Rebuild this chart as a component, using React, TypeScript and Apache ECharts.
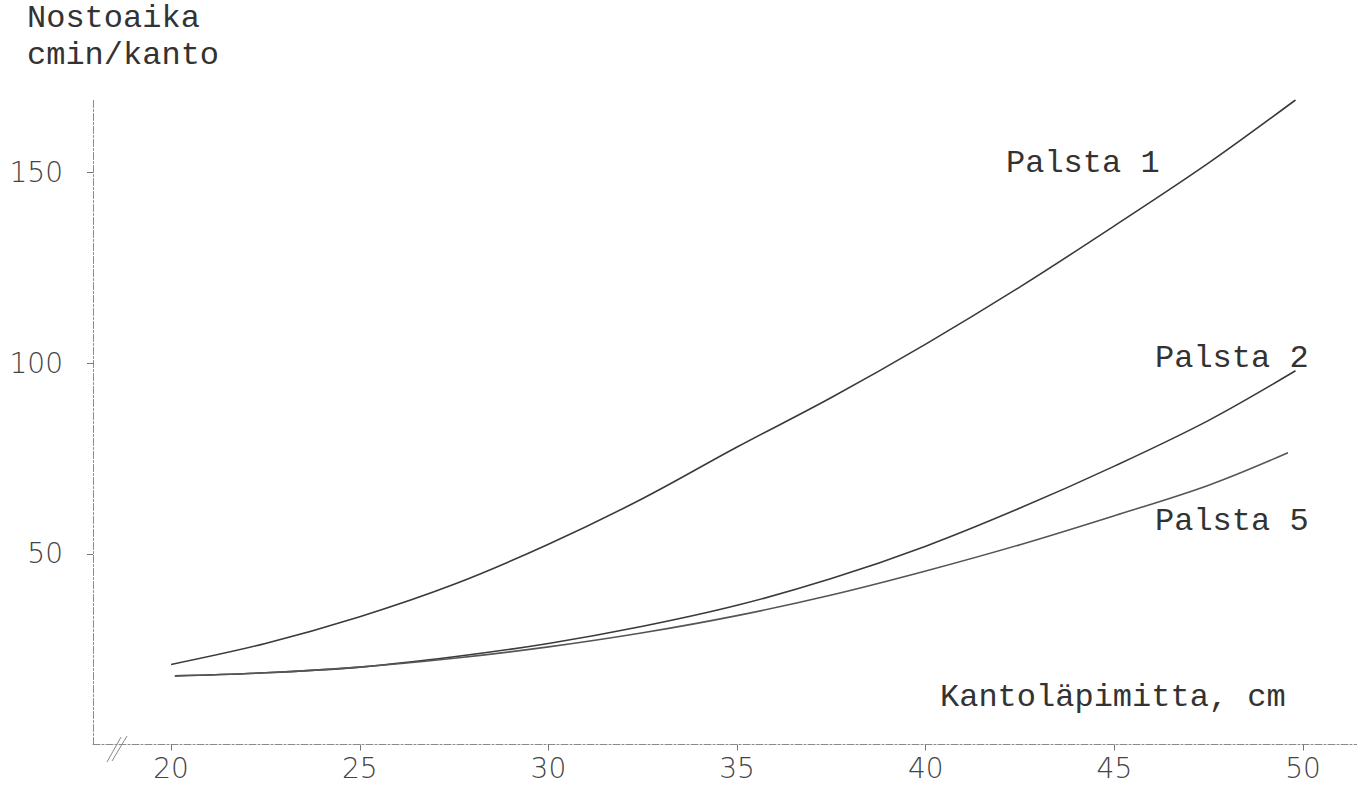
import React, { useEffect, useRef } from "react";
import * as echarts from "echarts";

// Kantoläpimitta, cm
const diam1 = [20, 22.5, 25, 27.5, 30, 32.5, 35, 37.5, 40, 42.5, 45, 47.5, 49.8];
const palsta1 = [21, 26.5, 33.5, 42, 52.5, 64.5, 78, 91, 105, 120, 136, 152.5, 169];

const diam2 = [20.1, 22.5, 25, 27.5, 30, 32.5, 35, 37.5, 40, 42.5, 45, 47.5, 49.8];
const palsta2 = [18, 18.8, 20.3, 23, 26.5, 31, 36.5, 43.5, 52, 62, 73, 85, 98];

const diam5 = [20.1, 22.5, 25, 27.5, 30, 32.5, 35, 37.5, 40, 42.5, 45, 47.5, 49.6];
const palsta5 = [18, 18.8, 20.3, 22.6, 25.6, 29.3, 33.8, 39.2, 45.5, 52.4, 60, 68, 76.5];

const xTicks = [20, 25, 30, 35, 40, 45, 50];
const yTicks = [50, 100, 150];

const seriesNames = ["Palsta 1", "Palsta 2", "Palsta 5"];

const mono = "Liberation Mono, Courier New, monospace";
const sans = "DejaVu Sans, sans-serif";

export default function App() {
  const ref = useRef<HTMLDivElement>(null);
  useEffect(() => {
    if (!ref.current) return;
    const chart = echarts.init(ref.current, null, { renderer: "svg" });
    const pair = (xs: number[], ys: number[]) => xs.map((x, i) => [x, ys[i]]);
    const axisLine = { show: true, lineStyle: { color: "#8a8a8a", width: 1, type: [7, 2, 2, 2] as any } };
    const lineSeries = (name: string, data: number[][], color: string) => ({
      name,
      type: "line",
      data,
      smooth: 0.35,
      showSymbol: false,
      symbol: "none",
      lineStyle: { color, width: 1.6 },
      z: 3,
    });
    const txt = (x: number, y: number, text: string, size = 32) => ({
      type: "text",
      style: { x, y, text, font: `${size}px ${mono}`, fill: "#333", verticalAlign: "middle" },
    });
    chart.setOption({
      animation: false,
      backgroundColor: "#ffffff",
      grid: { left: 93, right: 0, top: 100, bottom: 47.5, containLabel: false },
      xAxis: {
        type: "value",
        min: 17.93,
        max: 51.43,
        axisLine: { ...axisLine, onZero: false },
        axisTick: { show: true, inside: false, length: 6, customValues: xTicks, lineStyle: { color: "#777" } },
        axisLabel: {
          customValues: xTicks,
          margin: 10,
          fontFamily: sans,
          fontSize: 28,
          fontWeight: 200,
          color: "#444",
        },
        splitLine: { show: false },
      },
      yAxis: {
        type: "value",
        min: 0,
        max: 169,
        axisLine: { ...axisLine, onZero: false },
        axisTick: { show: true, length: 6, customValues: yTicks, lineStyle: { color: "#777" } },
        axisLabel: {
          customValues: yTicks,
          margin: 30,
          fontFamily: sans,
          fontSize: 28,
          fontWeight: 200,
          color: "#444",
        },
        splitLine: { show: false },
      },
      series: [
        lineSeries(seriesNames[0], pair(diam1, palsta1), "#3a3a3a"),
        lineSeries(seriesNames[1], pair(diam2, palsta2), "#3a3a3a"),
        lineSeries(seriesNames[2], pair(diam5, palsta5), "#555555"),
      ],
      graphic: [
        txt(27, 18, "Nostoaika"),
        txt(27, 55, "cmin/kanto"),
        txt(1006, 163, seriesNames[0]),
        txt(1155, 358, seriesNames[1]),
        txt(1155, 521, seriesNames[2]),
        txt(940, 697, "Kantoläpimitta, cm"),
        { type: "line", shape: { x1: 107, y1: 762, x2: 121, y2: 737 }, style: { stroke: "#888", lineWidth: 1 } },
        { type: "line", shape: { x1: 112, y1: 761, x2: 127, y2: 736 }, style: { stroke: "#888", lineWidth: 1 } },
      ],
    });
    return () => chart.dispose();
  }, []);
  return (
    <div
      ref={ref}
      style={{ position: "fixed", left: 0, top: 0, width: 1357, height: 792, background: "#fff" }}
    />
  );
}
